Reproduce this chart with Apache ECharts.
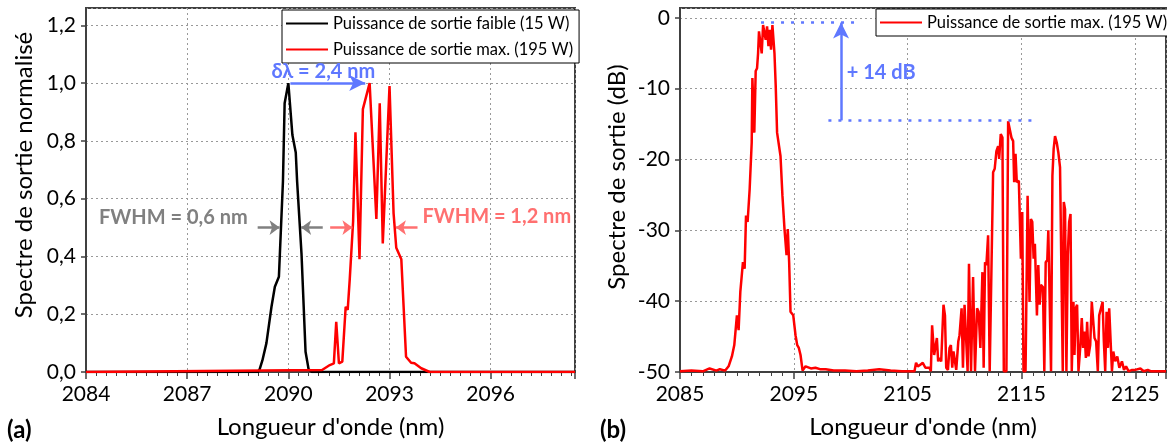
<!DOCTYPE html>
<html><head><meta charset="utf-8">
<script src="https://cdn.jsdelivr.net/npm/echarts@6/dist/echarts.min.js"></script>
<style>html,body{margin:0;padding:0;background:#fff}#c{width:1167px;height:444px}</style>
</head><body><div id="c"></div>
<script>
// ---------- Panel (a): normalised spectra ----------
const nameLow = 'Puissance de sortie faible (15 W)';
const nameMax = 'Puissance de sortie max. (195 W)';
const lowX = [2084, 2089.10, 2089.15, 2089.23, 2089.35, 2089.50, 2089.60, 2089.72, 2089.84, 2089.89, 2090.00, 2090.12, 2090.22, 2090.26, 2090.39, 2090.51, 2090.60, 2090.70, 2098.5];
const lowY = [0, 0, 0.01, 0.04, 0.10, 0.226, 0.295, 0.33, 0.66, 0.93, 1.0, 0.82, 0.76, 0.66, 0.41, 0.07, 0.01, 0, 0];
const maxAX = [2084, 2091.00, 2091.23, 2091.35, 2091.42, 2091.50, 2091.60, 2091.70, 2091.76, 2091.82, 2091.92, 2091.99, 2092.11, 2092.21, 2092.41, 2092.61, 2092.71, 2092.80, 2093.00, 2093.12, 2093.20, 2093.35, 2093.49, 2093.64, 2093.74, 2093.94, 2094.19, 2098.5];
const maxAY = [0, 0.007, 0.024, 0.03, 0.174, 0.03, 0.036, 0.226, 0.215, 0.32, 0.52, 0.83, 0.39, 0.91, 1.0, 0.53, 0.93, 0.445, 0.99, 0.55, 0.43, 0.39, 0.053, 0.032, 0.03, 0.013, 0.0, 0];
const aXTicks = {min: 2084, max: 2098.5, interval: 3};
const aYTicks = {min: 0, max: 1.26, interval: 0.2};

// ---------- Panel (b): spectrum in dB ----------
const bX = [2085, 2086, 2087, 2087.6, 2088.2, 2088.5, 2088.97, 2089.27, 2089.56, 2089.77, 2090.0, 2090.15, 2090.30, 2090.53, 2090.68, 2090.80, 2090.94, 2091.12, 2091.30, 2091.36, 2091.47, 2091.53, 2091.65, 2091.77, 2091.86, 2091.94, 2092.06, 2092.18, 2092.30, 2092.41, 2092.53, 2092.65, 2092.77, 2092.88, 2093.0, 2093.12, 2093.30, 2093.41, 2093.53, 2093.68, 2093.83, 2094.0, 2094.18, 2094.36, 2094.47, 2094.59, 2094.71, 2094.95, 2095.15, 2095.30, 2095.44, 2095.59, 2095.77, 2096.03, 2096.18, 2096.5, 2096.9, 2097.3, 2097.8, 2098.5, 2099.5, 2100.5, 2101.5, 2102.5, 2103.5, 2104.5, 2105.6,
  2105.74, 2105.89, 2106.09, 2106.33, 2106.56, 2106.92, 2107.04, 2107.15, 2107.33, 2107.45, 2107.57, 2107.68, 2107.80, 2107.95, 2108.15, 2108.28, 2108.39, 2108.54, 2108.68, 2108.80, 2108.92, 2109.03, 2109.16, 2109.27, 2109.45, 2109.56, 2109.74, 2109.86, 2110.00, 2110.15, 2110.27, 2110.39, 2110.57, 2110.75, 2110.92, 2111.10, 2111.24, 2111.39, 2111.57, 2111.68, 2111.80, 2111.92, 2112.07, 2112.21, 2112.36, 2112.51, 2112.65, 2112.80, 2112.95, 2113.04, 2113.18, 2113.33, 2113.45, 2113.68, 2113.83, 2113.97, 2114.12, 2114.27, 2114.36, 2114.48, 2114.59, 2114.77, 2114.95, 2115.07, 2115.18, 2115.36, 2115.54, 2115.71, 2115.83, 2115.95, 2116.07, 2116.18, 2116.30, 2116.36, 2116.48, 2116.60, 2116.71, 2116.89, 2117.01, 2117.13, 2117.27, 2117.36, 2117.51, 2117.60, 2117.72, 2117.83, 2117.95, 2118.10, 2118.24, 2118.39, 2118.54, 2118.63, 2118.72, 2118.83, 2118.95, 2119.07, 2119.19, 2119.31, 2119.42, 2119.57, 2119.66, 2119.77, 2119.89, 2120.01, 2120.18, 2120.30, 2120.42, 2120.54, 2120.66, 2120.77, 2120.89, 2121.04, 2121.18, 2121.30, 2121.42, 2121.56, 2121.71, 2121.83, 2122.00, 2122.13, 2122.24, 2122.36, 2122.48, 2122.60, 2122.71, 2122.83, 2122.95, 2123.07, 2123.24, 2123.42, 2123.60, 2123.83, 2124.01, 2124.19, 2124.42, 2124.72, 2125.0, 2125.45, 2125.74, 2126.1, 2126.4, 2127.7];
const bY = [-49.9, -49.8, -49.9, -49.5, -49.8, -49.6, -49.8, -49.2, -47.8, -46.2, -42.0, -44.1, -38.7, -34.5, -35.4, -27.9, -28.8, -24.2, -17.6, -8.5, -8.7, -16.2, -7.5, -7.1, -5.0, -1.9, -1.7, -5.0, -1.0, -0.75, -3.1, -1.2, -4.0, -1.7, -4.5, -1.0, -5.0, -9.6, -16.2, -16.4, -19.5, -25.1, -29.8, -33.5, -29.8, -34.5, -41.5, -42.0, -44.8, -46.2, -46.6, -47.6, -49.8, -49.2, -49.4, -49.5, -49.4, -49.6, -49.6, -49.8, -49.8, -49.9, -49.8, -49.6, -49.8, -49.9, -49.9,
  -48.7, -49.2, -49.0, -48.7, -49.4, -49.4, -49.9, -43.4, -47.6, -47.8, -45.2, -48.5, -48.0, -48.5, -40.5, -42.0, -49.4, -49.7, -46.6, -46.2, -49.4, -47.1, -47.3, -49.7, -45.7, -44.8, -41.0, -49.4, -40.5, -40.5, -49.9, -34.7, -49.9, -36.6, -49.9, -41.0, -41.5, -46.6, -35.9, -49.4, -34.5, -34.9, -30.7, -49.9, -49.9, -21.8, -21.3, -18.8, -18.1, -19.9, -16.4, -16.9, -49.9, -49.9, -14.6, -14.8, -16.9, -17.4, -23.2, -19.2, -23.2, -23.0, -34.0, -27.4, -49.9, -49.9, -25.1, -40.1, -28.4, -28.8, -34.0, -31.9, -32.1, -42.0, -34.9, -40.5, -37.7, -38.0, -49.9, -34.5, -34.2, -30.0, -30.2, -49.9, -22.3, -18.5, -16.7, -17.6, -19.0, -21.1, -21.1, -49.9, -26.0, -27.0, -49.9, -33.5, -28.8, -27.7, -49.9, -40.1, -47.6, -41.0, -40.5, -49.9, -46.2, -42.4, -46.6, -44.3, -48.0, -42.9, -47.8, -46.2, -40.1, -40.1, -45.2, -45.7, -49.9, -42.0, -42.0, -40.1, -45.7, -49.9, -41.5, -46.6, -41.0, -41.0, -49.9, -47.1, -48.5, -47.8, -49.4, -48.5, -49.7, -49.2, -49.9, -49.7, -49.7, -49.5, -49.9, -49.7, -49.9, -49.9];
const bXTicks = {min: 2085, max: 2127.7, interval: 10};
const bYTicks = {min: -50, max: 1.4, interval: 10};

const zip = (xs, ys) => xs.map((x, i) => [x, ys[i]]);
const FONT = 'Lato';
const BLUE = '#5f78ff', GRAY = '#808080', SALMON = '#ff7070';
const AX = '#404040';
const TITLE_SIZE = 24;

function xAxisCfg(grid, t) {
  return {
    type: 'value', gridIndex: grid, min: t.min, max: t.max, interval: t.interval,
    name: "Longueur d'onde (nm)", nameLocation: 'middle', nameGap: 43,
    nameTextStyle: {fontFamily: FONT, fontSize: TITLE_SIZE, color: '#000'},
    axisLine: {show: true, onZero: false, lineStyle: {color: AX, width: 2}},
    axisTick: {show: true, inside: false, length: 7, lineStyle: {color: AX, width: 1.5}},
    minorTick: {show: true, splitNumber: 10, length: 4, lineStyle: {color: AX, width: 1}},
    axisLabel: {fontFamily: FONT, fontSize: 21, color: '#000', margin: 12, showMaxLabel: false, formatter: v => String(v)},
    splitLine: {show: true, lineStyle: {color: '#999', type: [2, 3], width: 1}}
  };
}
function yAxisCfg(grid, t, fmt) {
  return {
    type: 'value', gridIndex: grid, min: t.min, max: t.max, interval: t.interval,
    axisLine: {show: true, onZero: false, lineStyle: {color: AX, width: 2}},
    axisTick: {show: true, length: 5, lineStyle: {color: AX, width: 1.5}},
    axisLabel: {fontFamily: FONT, fontSize: 21, color: '#000', margin: 10, formatter: fmt, showMaxLabel: false},
    splitLine: {show: true, lineStyle: {color: '#999', type: [2, 3], width: 1}}
  };
}
function arrowLine(p1, p2, color, width, size) {
  return [{coord: p1, symbol: 'none'}, {coord: p2, symbol: 'arrow', symbolSize: size, lineStyle: {color, width, type: 'solid'}}];
}
function textPt(coord, text, color, pos) {
  return {coord, symbol: 'circle', symbolSize: 1, itemStyle: {color: 'rgba(0,0,0,0)'},
    label: {show: true, position: pos || 'inside', distance: 0, formatter: text, color, fontFamily: FONT, fontWeight: 'bold', fontSize: 20}};
}
function legendCfg(left, top, data, gap) {
  return {left, top, orient: 'vertical', data, itemWidth: 42, itemHeight: 14, itemGap: gap,
    padding: [5, 6, 5, 3], borderColor: '#000', borderWidth: 1, backgroundColor: '#fff', borderRadius: 0,
    itemStyle: {opacity: 0},
    textStyle: {fontFamily: FONT, fontSize: 16.5, color: '#000'}, selectedMode: false};
}

const chart = echarts.init(document.getElementById('c'), null, {renderer: 'canvas'});
const option = {
  animation: false,
  backgroundColor: '#fff',
  grid: [
    {left: 86, top: 8, width: 489, height: 364, show: true, borderColor: AX, borderWidth: 2, backgroundColor: 'transparent'},
    {left: 680, top: 8, width: 486, height: 366, show: true, borderColor: AX, borderWidth: 2, backgroundColor: 'transparent'}
  ],
  xAxis: [xAxisCfg(0, aXTicks), xAxisCfg(1, bXTicks)],
  yAxis: [
    yAxisCfg(0, aYTicks, v => v.toFixed(1).replace('.', ',')),
    yAxisCfg(1, bYTicks, v => String(v))
  ],
  legend: [legendCfg(282, 10, [nameLow, nameMax], 9), legendCfg(876, 9, [nameMax], 8)],
  graphic: [
    {type: 'text', left: 7, top: 418, style: {text: '(a)', fontFamily: FONT, fontWeight: 'bold', fontSize: 24, fill: '#000'}},
    {type: 'text', left: 600, top: 418, style: {text: '(b)', fontFamily: FONT, fontWeight: 'bold', fontSize: 24, fill: '#000'}},
    {type: 'text', x: 24, y: 175, rotation: Math.PI / 2, style: {text: 'Spectre de sortie normalisé', fontFamily: FONT, fontSize: TITLE_SIZE, fill: '#000', align: 'center', verticalAlign: 'middle'}},
    {type: 'text', x: 617, y: 177, rotation: Math.PI / 2, style: {text: 'Spectre de sortie (dB)', fontFamily: FONT, fontSize: TITLE_SIZE, fill: '#000', align: 'center', verticalAlign: 'middle'}}
  ],
  series: [
    {name: nameLow, type: 'line', xAxisIndex: 0, yAxisIndex: 0, data: zip(lowX, lowY), symbol: 'none',
      lineStyle: {color: '#000', width: 2.5}, itemStyle: {color: '#000'}, z: 3},
    {name: nameMax, type: 'line', xAxisIndex: 0, yAxisIndex: 0, data: zip(maxAX, maxAY), symbol: 'none',
      lineStyle: {color: '#ff0000', width: 2.5}, itemStyle: {color: '#ff0000'}, z: 4},
    {name: nameMax, type: 'line', xAxisIndex: 1, yAxisIndex: 1, data: zip(bX, bY), symbol: 'none',
      lineStyle: {color: '#ff0000', width: 2.5}, itemStyle: {color: '#ff0000'}, z: 4},
    {name: 'annotA', type: 'line', xAxisIndex: 0, yAxisIndex: 0, data: [], silent: true, z: 6,
      markLine: {silent: true, animation: false, label: {show: false}, emphasis: {disabled: true},
        data: [
          arrowLine([2090.06, 1.0], [2092.28, 1.0], BLUE, 2.5, [12, 16]),
          arrowLine([2089.09, 0.5], [2089.74, 0.5], GRAY, 2.5, [11, 10]),
          arrowLine([2091.02, 0.5], [2090.38, 0.5], GRAY, 2.5, [11, 10]),
          arrowLine([2091.24, 0.5], [2091.90, 0.5], SALMON, 2.5, [11, 10]),
          arrowLine([2093.83, 0.5], [2093.19, 0.5], SALMON, 2.5, [11, 10])
        ]},
      markPoint: {silent: true, animation: false, data: [
        textPt([2091.04, 1.04], 'δλ = 2,4 nm', BLUE),
        textPt([2086.59, 0.535], 'FWHM = 0,6 nm', GRAY),
        textPt([2096.18, 0.537], 'FWHM = 1,2 nm', SALMON)
      ]}},
    {name: 'annotB', type: 'line', xAxisIndex: 1, yAxisIndex: 1, data: [], silent: true, z: 6,
      markLine: {silent: true, animation: false, label: {show: false}, emphasis: {disabled: true}, symbol: 'none',
        data: [
          [{coord: [2092.12, -0.66]}, {coord: [2100.56, -0.66], lineStyle: {color: BLUE, width: 2.5, type: [3, 7]}}],
          [{coord: [2098.04, -14.47]}, {coord: [2116.47, -14.47], lineStyle: {color: BLUE, width: 2.5, type: [3, 7]}}],
          arrowLine([2099.15, -14.47], [2099.15, -0.66], BLUE, 2.5, [12, 16])
        ]},
      markPoint: {silent: true, animation: false, data: [
        textPt([2102.67, -7.72], '+ 14 dB', BLUE)
      ]}}
  ]
};
chart.setOption(option);
</script>
</body></html>
